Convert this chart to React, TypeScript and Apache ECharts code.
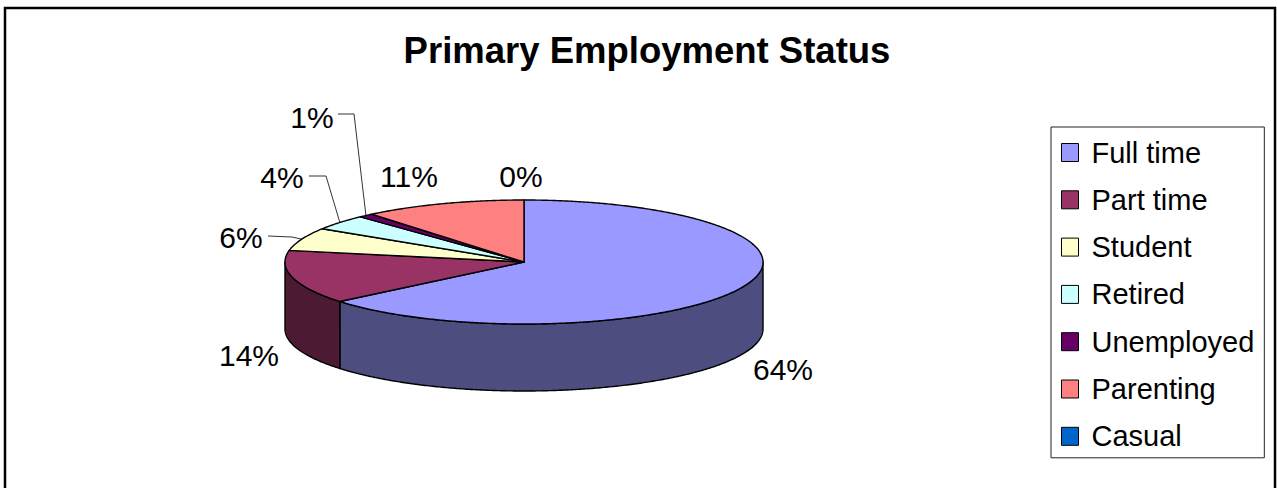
import React, { useEffect, useRef } from "react";
import * as echarts from "echarts";

// ---- data ----
const categories = ["Full time", "Part time", "Student", "Retired", "Unemployed", "Parenting", "Casual"];
const values = [64, 14, 6, 4, 1, 11, 0];
const colors = ["#9999FF", "#993366", "#FFFFCC", "#CCFFFF", "#660066", "#FF8080", "#0066CC"];

// ---- layout (not data) ----
const CX = 524;
const CY = 262;
const RX = 239;
const RY = 62;
const DEPTH = 67;
const labelPos: [number, number][] = [
  [783, 369],
  [249, 355],
  [241, 237],
  [282, 177],
  [312, 117],
  [409, 176],
  [521, 176],
];
const leaderStart: ([number, number][] | null)[] = [
  null,
  null,
  [[268, 236], [292, 237]],
  [[309, 176], [326, 176]],
  [[338, 114], [354, 114]],
  null,
  null,
];

const FONT = '"Liberation Sans", Arial, sans-serif';

function darken(hex: string, f: number) {
  const n = parseInt(hex.slice(1), 16);
  const r = Math.round(((n >> 16) & 255) * f);
  const g = Math.round(((n >> 8) & 255) * f);
  const b = Math.round((n & 255) * f);
  return "rgb(" + r + "," + g + "," + b + ")";
}

const total = values.reduce((a, b) => a + b, 0);
const cum: number[] = [0];
values.forEach((v, i) => cum.push(cum[i] + v));

function pt(f: number, dy = 0): [number, number] {
  const t = Math.PI / 2 - 2 * Math.PI * f;
  return [CX + RX * Math.cos(t), CY - RY * Math.sin(t) + dy];
}

function arc(s: number, e: number, dy = 0): [number, number][] {
  const pts: [number, number][] = [];
  const n = Math.max(2, Math.ceil((e - s) * 720));
  for (let k = 0; k <= n; k++) pts.push(pt(s + ((e - s) * k) / n, dy));
  return pts;
}

function makeRender(i: number) {
  return (params: any, api: any) => {
    const v = api.value(0);
    const s = cum[i] / total;
    const e = (cum[i] + v) / total;
    const children: any[] = [];
    if (v > 0) {
      const fs = Math.max(s, 0.25);
      const fe = Math.min(e, 0.75);
      if (fe > fs) {
        const top = arc(fs, fe);
        const bot = arc(fs, fe, DEPTH).reverse();
        children.push({
          type: "polygon",
          shape: { points: top.concat(bot) },
          style: { fill: darken(colors[i], 0.5), stroke: "#000", lineWidth: 1.4, lineJoin: "round" },
          z2: 1,
        });
      }
      children.push({
        type: "polygon",
        shape: { points: [[CX, CY] as [number, number]].concat(arc(s, e)) },
        style: { fill: colors[i], stroke: "#000", lineWidth: 1.4, lineJoin: "round" },
        z2: 2,
      });
    }
    const ls = leaderStart[i];
    if (ls) {
      const m = pt((s + e) / 2);
      children.push({
        type: "polyline",
        shape: { points: ls.concat([m]) },
        style: { stroke: "#000", lineWidth: 0.8, fill: null },
        z2: 3,
      });
    }
    const pct = Math.round((v / total) * 100) + "%";
    children.push({
      type: "text",
      x: labelPos[i][0],
      y: labelPos[i][1],
      style: {
        text: pct,
        fontSize: 30,
        fontFamily: FONT,
        fill: "#000",
        align: "center",
        verticalAlign: "middle",
      },
      z2: 4,
    });
    return { type: "group", children };
  };
}

export default function App() {
  const ref = useRef<HTMLDivElement>(null);
  useEffect(() => {
    document.body.style.margin = "0";
    const chart = echarts.init(ref.current!, null, { renderer: "svg" });
    chart.setOption({
      animation: false,
      backgroundColor: "#fff",
      title: {
        text: "Primary Employment Status",
        left: 642,
        top: 27,
        textAlign: "center",
        textStyle: { fontSize: 36.5, fontWeight: "bold", fontFamily: FONT, color: "#000" },
      },
      legend: {
        orient: "vertical",
        left: 1051,
        top: 127,
        data: categories,
        selectedMode: false,
        icon: "rect",
        itemWidth: 17,
        itemHeight: 18,
        itemGap: 18.3,
        padding: [11, 10, 7, 10],
        borderColor: "#222",
        borderWidth: 1,
        itemStyle: { borderColor: "#000", borderWidth: 1 },
        textStyle: { fontSize: 29, fontFamily: FONT, color: "#000", padding: [0, 0, 0, 8] },
      },
      graphic: [
        {
          type: "rect",
          shape: { x: 5, y: 8, width: 1270, height: 600 },
          style: { fill: "none", stroke: "#000", lineWidth: 2.5 },
          silent: true,
        },
      ],
      series: categories.map((name, i) => ({
        type: "custom",
        name,
        coordinateSystem: "none",
        color: colors[i],
        data: [values[i]],
        renderItem: makeRender(i),
        silent: true,
      })),
    });
    return () => chart.dispose();
  }, []);
  return <div ref={ref} style={{ width: 1277, height: 488 }} />;
}
